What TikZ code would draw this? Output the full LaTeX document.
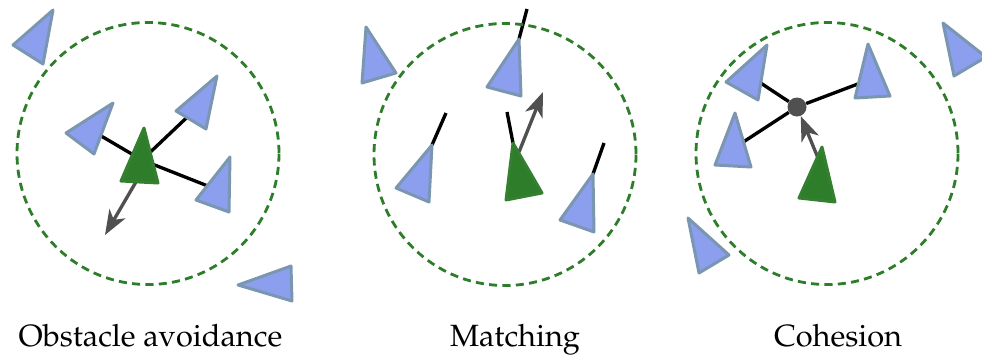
\documentclass[tikz,border=0pt]{standalone}
\usepackage[T1]{fontenc}
\usepackage{mathpazo}
\usetikzlibrary{arrows.meta,backgrounds}
\definecolor{boidfill}{RGB}{140,158,238}
\definecolor{boidedge}{RGB}{122,150,176}
\definecolor{leadfill}{RGB}{46,125,43}
\definecolor{leadedge}{RGB}{52,128,48}
\definecolor{ringcol}{RGB}{46,125,43}
\definecolor{arrowcol}{RGB}{80,80,80}
\begin{document}
\begin{tikzpicture}[x=0.02cm,y=-0.02cm,
  boid/.style={fill=boidfill,draw=boidedge,line width=1.7pt,line join=round},
  lead/.style={fill=leadfill,draw=leadedge,line width=1.7pt,line join=round},
  ring/.style={draw=ringcol,line width=1.6pt,dash pattern=on 4.6pt off 3pt},
  link/.style={draw=black,line width=1.9pt},
  move/.style={draw=arrowcol,line width=1.9pt,-{Stealth[length=14pt,width=10.5pt,inset=4pt]}},
  caption/.style={anchor=base,font=\fontsize{17.5}{21}\selectfont,inner sep=0pt},
  hubdot/.style={circle,fill=arrowcol,minimum size=0.38cm,inner sep=0pt}]
\useasboundingbox (0,0) rectangle (982,356);

% ---- coordinates ----
\coordinate (c1) at (148,153.5);
\coordinate (c2) at (505,154.5);
\coordinate (c3) at (827,153.5);
% panel 1
\coordinate (h1) at (142,160);
\coordinate (a1s) at (140,175);
\coordinate (a1e) at (105,235);
\coordinate (n1b) at (91,130);
\coordinate (n1c) at (200,105);
\coordinate (n1d) at (218,190);
% panel 2
\coordinate (g2tip) at (513,143);
\coordinate (g2dir) at (507,112);
\coordinate (a2s) at (519,152);
\coordinate (a2e) at (543,92);
\coordinate (t2b) at (519,39);
\coordinate (d2b) at (527,9);
\coordinate (t2c) at (432,145);
\coordinate (d2c) at (446,113);
\coordinate (t2d) at (593,174);
\coordinate (d2d) at (604,143);
% panel 3
\coordinate (n3a) at (750,76);
\coordinate (n3b) at (871,79);
\coordinate (n3c) at (734,148);
\coordinate (a3s) at (818,158);

% ---- rings ----
\draw[ring] (c1) circle[radius=131];
\draw[ring] (c2) circle[radius=131];
\draw[ring] (c3) circle[radius=131];

% ---- hub dot ----
\node[hubdot] (hub) at (797,107) {};

% ---- connectors under the boids ----
\begin{scope}[on background layer]
  \draw[link] (h1) -- (n1b);
  \draw[link] (h1) -- (n1c);
  \draw[link] (h1) -- (n1d);
  \draw[move] (a1s) -- (a1e);
  \draw[link] (g2tip) -- (g2dir);
  \draw[link] (t2b) -- (d2b);
  \draw[link] (t2c) -- (d2c);
  \draw[link] (t2d) -- (d2d);
  \draw[move] (a2s) -- (a2e);
  \draw[link] (hub) -- (n3a);
  \draw[link] (hub) -- (n3b);
  \draw[link] (hub) -- (n3c);
  \draw[move] (a3s) -- (hub);
\end{scope}

% ---- panel 1 boids ----
\draw[boid] (53,10) -- (13,45) -- (43,64) -- cycle;
\draw[boid] (113,103) -- (66,133) -- (94,154) -- cycle;
\draw[boid] (217,76) -- (176,111) -- (206,129) -- cycle;
\draw[boid] (230,157) -- (196,200) -- (229,212) -- cycle;
\draw[boid] (291,266) -- (238,285) -- (292,301) -- cycle;
\draw[lead] (144,128) -- (121,181) -- (158,183) -- cycle;

% ---- panel 2 boids ----
\draw[boid] (366,27) -- (362,83) -- (396,73) -- cycle;
\draw[boid] (t2b) -- (487,87) -- (521,96) -- cycle;
\draw[boid] (t2c) -- (396,188) -- (429,202) -- cycle;
\draw[boid] (t2d) -- (560,220) -- (594,232) -- cycle;
\draw[lead] (g2tip) -- (506,200) -- (542,193) -- cycle;

% ---- panel 3 boids ----
\draw[boid] (767,45) -- (726,82) -- (758,100) -- cycle;
\draw[boid] (868,44) -- (855,98) -- (890,96) -- cycle;
\draw[boid] (735,113) -- (715,165) -- (751,167) -- cycle;
\draw[boid] (943,23) -- (954,76) -- (986,57) -- cycle;
\draw[boid] (688,218) -- (699,273) -- (729,255) -- cycle;
\draw[lead] (822,147) -- (799,198) -- (835,202) -- cycle;

% ---- captions ----
\node[caption] (cap1) at (150.5,346) {Obstacle avoidance};
\node[caption] (cap2) at (515,346) {Matching};
\node[caption] (cap3) at (838,346) {Cohesion};
\end{tikzpicture}
\end{document}
